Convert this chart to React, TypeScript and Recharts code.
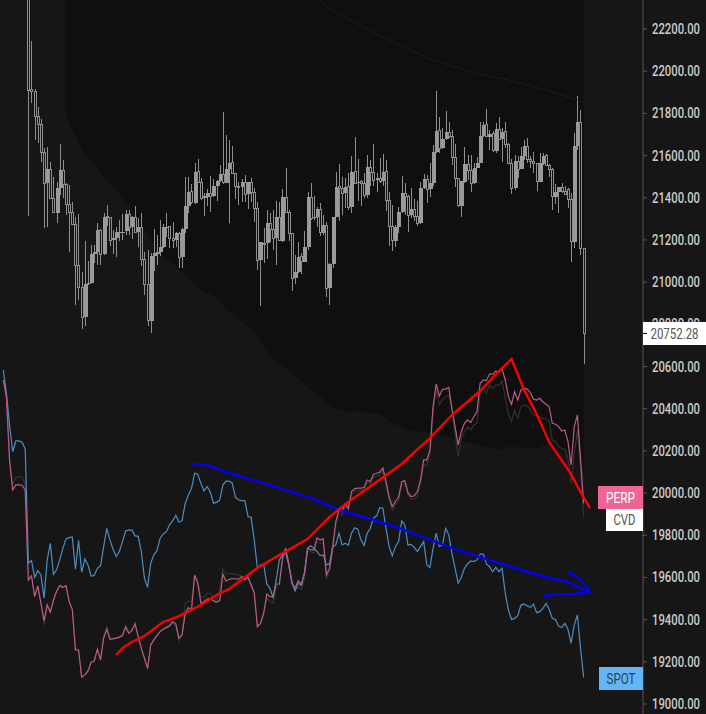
import { Area, Bar, ComposedChart, Line, XAxis, YAxis } from 'recharts'

const slotCount = 204
const candleStart = 8
const axisTop = 22337.5
const axisBottom = 18952.6

const priceTicks = [
  19000, 19200, 19400, 19600, 19800, 20000, 20200, 20400, 20600, 20800, 21000, 21200, 21400, 21600, 21800, 22000, 22200,
]

const opens = [
  22450, 21914, 21904, 21784, 21748, 21613, 21468, 21536, 21395, 21329, 21444, 21530, 21463, 21368, 21331, 21274, 21079, 20975,
  20833, 20989, 20997, 21131, 21141, 21247, 21131, 21310, 21305, 21199, 21207, 21236, 21236, 21244, 21321, 21259, 21307, 21236,
  21259, 21108, 20989, 20817, 21124, 21133, 21141, 21165, 21259, 21263, 21207, 21199, 21231, 21117, 21250, 21361, 21429, 21376,
  21523, 21471, 21397, 21405, 21421, 21408, 21457, 21479, 21511, 21471, 21536,
  21568, 21516, 21452, 21449, 21473, 21416, 21473, 21424, 21350, 21103, 21184, 21184, 21279, 21250, 21208, 21307, 21196, 21402,
  21331, 21231, 21018, 21049, 21121, 21097, 21168, 21402, 21302, 21307, 21345, 21234, 21269, 20970, 21084, 21307, 21452, 21444,
  21421, 21452, 21354, 21524, 21468, 21476, 21468, 21413, 21544, 21519, 21484, 21492, 21479, 21524, 21388, 21266, 21196, 21263,
  21331, 21421, 21408, 21318, 21345, 21313, 21279, 21444, 21487, 21440, 21471, 21618, 21721, 21634, 21677, 21710, 21689, 21591,
  21492, 21362, 21476, 21558, 21531, 21468, 21539, 21563, 21694, 21745, 21689, 21705, 21623, 21724, 21677, 21713, 21653, 21563,
  21444, 21574, 21535, 21598, 21645, 21579, 21574, 21563, 21476, 21560, 21598, 21555, 21535, 21405, 21429, 21449, 21432, 21440,
  21392, 21192, 21645, 21757, 21160,
]

const closes = [
  21910, 21903, 21784, 21748, 21613, 21468, 21536, 21395, 21331, 21444, 21530, 21463, 21368, 21331, 21274, 21079, 20975, 20833,
  20989, 20997, 21131, 21141, 21247, 21131, 21310, 21305, 21199, 21207, 21236, 21237, 21240, 21321, 21258, 21307, 21236, 21259,
  21108, 20989, 20817, 21124, 21136, 21141, 21165, 21259, 21263, 21207, 21199, 21231, 21117, 21250, 21361, 21429, 21376, 21523,
  21471, 21397, 21408, 21421, 21408, 21457, 21479, 21511, 21471, 21536, 21567,
  21516, 21452, 21449, 21473, 21416, 21473, 21424, 21350, 21103, 21189, 21181, 21279, 21250, 21208, 21307, 21196, 21402, 21331,
  21231, 21018, 21049, 21121, 21097, 21168, 21402, 21302, 21307, 21345, 21234, 21269, 20970, 21084, 21307, 21452, 21444, 21421,
  21452, 21354, 21524, 21468, 21476, 21468, 21413, 21544, 21519, 21484, 21492, 21479, 21524, 21388, 21266, 21196, 21263, 21331,
  21421, 21408, 21318, 21345, 21313, 21279, 21444, 21487, 21440, 21471, 21618, 21718, 21634, 21677, 21710, 21689, 21591, 21492,
  21361, 21479, 21558, 21531, 21468, 21539, 21563, 21694, 21745, 21689, 21702, 21623, 21724, 21677, 21713, 21653, 21563, 21444,
  21576, 21535, 21598, 21645, 21579, 21574, 21563, 21476, 21563, 21598, 21555, 21535, 21405, 21429, 21449, 21429, 21416, 21392,
  21192, 21645, 21757, 21160, 20757,
]

const highs = [
  22500, 22143, 21914, 21828, 21771, 21634, 21640, 21568, 21498, 21474, 21654, 21579, 21468, 21460, 21380, 21307, 21321, 21049,
  21193, 21100, 21174, 21176, 21278, 21250, 21326, 21368, 21310, 21247, 21259, 21294, 21323, 21342, 21342, 21313, 21361, 21302,
  21326, 21144, 21152, 21136, 21252, 21223, 21294, 21275, 21326, 21263, 21286, 21239, 21239, 21255, 21498, 21498, 21465, 21563,
  21583, 21496, 21421, 21440, 21503, 21487, 21484, 21555, 21806, 21697, 21673,
  21645, 21516, 21476, 21489, 21508, 21476, 21492, 21444, 21378, 21192, 21255, 21342, 21326, 21342, 21384, 21381, 21441, 21541,
  21342, 21234, 21128, 21189, 21136, 21244, 21429, 21468, 21408, 21358, 21373, 21318, 21283, 21089, 21307, 21520, 21560, 21500,
  21492, 21516, 21598, 21689, 21584, 21484, 21519, 21602, 21579, 21655, 21519, 21587, 21607, 21579, 21429, 21365, 21271, 21358,
  21503, 21468, 21413, 21444, 21392, 21386, 21476, 21512, 21508, 21566, 21650, 21906, 21784, 21729, 21811, 21757, 21721, 21655,
  21492, 21479, 21639, 21602, 21602, 21563, 21595, 21760, 21760, 21819, 21721, 21718, 21753, 21784, 21729, 21760, 21658, 21582,
  21602, 21598, 21642, 21674, 21681, 21598, 21618, 21563, 21610, 21614, 21607, 21560, 21539, 21465, 21452, 21468, 21456, 21444,
  21421, 21705, 21882, 21816, 21160,
]

const lows = [
  21313, 21847, 21673, 21658, 21571, 21256, 21261, 21392, 21326, 21282, 21413, 21397, 21318, 21144, 21270, 20891, 20915, 20778,
  20792, 20986, 20994, 21089, 21081, 21081, 21128, 21267, 21171, 21133, 21120, 21196, 21199, 21223, 21223, 21204, 21239, 21168,
  21078, 20939, 20792, 20760, 21054, 21081, 21124, 21160, 21215, 21160, 21160, 21168, 21068, 21068, 21231, 21329, 21370, 21370,
  21471, 21389, 21313, 21361, 21334, 21405, 21386, 21476, 21465, 21471, 21278,
  21516, 21394, 21366, 21378, 21378, 21346, 21378, 21286, 21057, 20888, 21092, 21110, 21192, 21152, 21081, 21200, 21192, 21331,
  21195, 20959, 20991, 21045, 21038, 21097, 21152, 21294, 21294, 21263, 21220, 21223, 20931, 20893, 21065, 21307, 21291, 21318,
  21350, 21342, 21329, 21468, 21386, 21362, 21397, 21397, 21457, 21456, 21429, 21468, 21456, 21339, 21173, 21149, 21168, 21234,
  21326, 21318, 21239, 21302, 21291, 21268, 21275, 21440, 21373, 21402, 21456, 21614, 21610, 21631, 21674, 21681, 21555, 21452,
  21358, 21310, 21468, 21484, 21429, 21465, 21539, 21563, 21689, 21686, 21626, 21615, 21614, 21674, 21571, 21634, 21563, 21418,
  21437, 21492, 21535, 21579, 21563, 21539, 21516, 21433, 21476, 21555, 21550, 21500, 21342, 21370, 21329, 21421, 21413, 21350,
  21097, 21160, 21626, 21128, 20612,
]

const spotValues = [
  20584, 20473, 20323, 20196, 20247, 20247, 20241, 20208, 19667, 19680, 19601, 19632, 19612, 19501, 19683, 19762, 19615, 19636,
  19683, 19738, 19783, 19789, 19792, 19639, 19776, 19625, 19688, 19659, 19607, 19609, 19643, 19655, 19746, 19833, 19778, 19734,
  19699, 19723, 19770, 19820, 19824, 19824, 19797, 19795, 19723, 19596, 19553, 19667, 19707, 19727, 19786, 19806, 19817, 19849,
  19869, 19895, 19862, 19869, 19952, 19991, 20023, 20094, 20089, 20046, 20010, 20031, 20004, 19952, 19956, 19967, 20038, 20057, 20057,
  20047, 19979, 19968, 19964, 19964, 19889, 19885, 19778, 19644, 19660, 19663, 19569, 19549, 19506, 19588, 19683, 19707, 19723,
  19660, 19581, 19536, 19573, 19562, 19620, 19739, 19750, 19739, 19723, 19704, 19707, 19660, 19664, 19746, 19754, 19810, 19754,
  19762, 19753, 19810, 19836, 19829, 19778, 19751, 19810, 19833, 19881, 19892, 19931, 19928, 19833, 19746, 19702, 19746, 19770,
  19868, 19849, 19754, 19757, 19743, 19723, 19746, 19770, 19660, 19647, 19739, 19810, 19746, 19754, 19833, 19802, 19715, 19644, 19573, 19600,
  19643, 19664, 19678, 19675, 19683, 19711, 19711, 19664, 19651, 19627, 19648, 19627, 19643, 19525, 19446, 19401, 19406, 19419,
  19469, 19474, 19465, 19458, 19474, 19433, 19438, 19453, 19477, 19449, 19406, 19401, 19370, 19363, 19382, 19354, 19288, 19375, 19422, 19264, 19126,
]

const perpValues = [
  20536, 20457, 20157, 20015, 20039, 20039, 20037, 20015, 19588, 19607, 19509, 19560, 19478, 19395, 19470, 19435, 19493, 19533,
  19561, 19553, 19561, 19486, 19449, 19256, 19256, 19127, 19138, 19157, 19198, 19204, 19260, 19209, 19312, 19354, 19307, 19309,
  19312, 19316, 19324, 19364, 19335, 19348, 19380, 19320, 19264, 19217, 19170, 19280, 19304, 19324, 19343, 19354, 19362, 19370,
  19391, 19380, 19312, 19327, 19430, 19457, 19446, 19612, 19572, 19478, 19486, 19497, 19501, 19490, 19482, 19490, 19615, 19583, 19591,
  19595, 19593, 19592, 19604, 19588, 19601, 19565, 19528, 19367, 19383, 19430, 19522, 19509, 19509, 19569, 19569, 19691, 19739,
  19667, 19573, 19549, 19585, 19568, 19620, 19739, 19731, 19731, 19786, 19778, 19783, 19612, 19644, 19746, 19865, 19920, 19912,
  19949, 19928, 20007, 20020, 20023, 20023, 20026, 20062, 20054, 20089, 20094, 20099, 20118, 20054, 19983, 19936, 19960, 19980,
  20054, 20059, 20002, 19983, 19987, 20007, 20062, 20157, 20157, 20205,
  20410, 20517, 20460, 20492, 20493, 20501, 20402, 20315, 20228, 20291, 20331, 20347, 20334, 20362, 20386, 20520, 20536, 20533, 20565,
  20563, 20579, 20575, 20588, 20536, 20457, 20421, 20481, 20441, 20489, 20497, 20493, 20478, 20446, 20441, 20449, 20433, 20421,
  20410, 20331, 20326, 20315, 20294, 20299, 20244, 20133, 20315, 20370, 20165, 19951,
]

const cvdValues = [
  20536, 20457, 20157, 20040, 20075, 20078, 20075, 20046, 19588, 19607, 19509, 19560, 19478, 19375, 19462, 19435, 19493, 19540,
  19561, 19553, 19561, 19486, 19449, 19265, 19256, 19127, 19138, 19157, 19198, 19204, 19260, 19209, 19320, 19368, 19312, 19312,
  19315, 19320, 19330, 19375, 19345, 19352, 19385, 19320, 19264, 19217, 19160, 19280, 19304, 19330, 19345, 19358, 19367, 19375,
  19385, 19370, 19300, 19335, 19478, 19486, 19486, 19604, 19588, 19506, 19506, 19525, 19525, 19506, 19490, 19541, 19639, 19615, 19620,
  19617, 19617, 19612, 19607, 19588, 19601, 19557, 19517, 19364, 19380, 19427, 19502, 19486, 19478, 19549, 19565, 19683, 19723,
  19660, 19565, 19536, 19557, 19541, 19596, 19723, 19723, 19715, 19770, 19762, 19762, 19596, 19628, 19723, 19849, 19901, 19896,
  19936, 19920, 19991, 20007, 20012, 20012, 20015, 20050, 20043, 20075, 20081, 20086, 20102, 20039, 19968, 19917, 19944, 19964,
  20039, 20047, 19991, 19972, 19971, 19983, 20047, 20133, 20129, 20181,
  20386, 20489, 20418, 20444, 20457, 20465, 20394, 20283, 20173, 20260, 20291, 20312, 20299, 20323, 20331, 20473, 20497, 20473, 20512,
  20497, 20512, 20512, 20531, 20449, 20378, 20339, 20394, 20354, 20410, 20417, 20414, 20394, 20370, 20365, 20361, 20354, 20350,
  20343, 20252, 20244, 20220, 20212, 20204, 20165, 20046, 20180, 20299, 20117, 19885,
]

const redSlots = [36, 38, 41, 45, 51, 56, 63, 68, 72, 81, 88, 97, 104, 110, 119, 127, 136, 143, 149, 152, 155, 159, 162, 166, 170, 174, 181, 184, 187]
const redPrices = [
  19232, 19265, 19294, 19322, 19389, 19417, 19469, 19517, 19545, 19645, 19706, 19782, 19887, 19958, 20052, 20138, 20261, 20370,
  20446, 20484, 20531, 20593, 20635, 20489, 20375, 20242, 20090, 20005, 19929,
]

const blueSlots = [60, 65, 72, 85, 98, 107, 117, 127, 138, 142, 153, 164, 173, 180, 187]
const bluePrices = [20138, 20133, 20095, 20038, 19977, 19920, 19877, 19830, 19768, 19744, 19692, 19640, 19602, 19578, 19531]

const arrowLowSlots = [172, 177, 181, 187]
const arrowLowPrices = [19512, 19521, 19521, 19531]
const arrowHighSlots = [180, 183, 186, 187]
const arrowHighPrices = [19626, 19602, 19555, 19531]

const shadeSlots = [
  20, 25, 31, 36, 40, 45, 50, 56, 63, 68, 72, 79, 82, 87, 92, 97, 101, 105, 110, 111, 112, 116, 120, 124, 129, 136, 139, 149, 155,
  159, 161, 166, 170, 174, 177, 181, 185,
]
const shadeLows = [
  21783, 21636, 21517, 21437, 21366, 21252, 21138, 21062, 20963, 20929, 20858, 20783, 20716, 20621, 20569, 20503, 20465, 20398,
  20389, 20380, 20394, 20380, 20380, 20332, 20304, 20285, 20275, 20237, 20214, 20204, 20223, 20214, 20214, 20237, 20204, 20166, 20124,
]

const bandSlots = [101, 105, 121, 135, 150, 161, 173, 185]
const bandPrices = [22337, 22285, 22162, 22063, 21991, 21958, 21911, 21854]

const valueAt = (slots: number[], values: number[], slot: number) => {
  const index = slots.indexOf(slot)
  return index < 0 ? undefined : values[index]
}

const rows = Array.from({ length: slotCount }, (_, slot) => {
  const c = slot - candleStart
  const lower = valueAt(shadeSlots, shadeLows, slot)
  return {
    slot,
    candle: c >= 0 && c < opens.length ? [lows[c], highs[c]] : undefined,
    open: opens[c],
    close: closes[c],
    spot: spotValues[slot],
    perp: perpValues[slot],
    cvd: cvdValues[slot],
    red: valueAt(redSlots, redPrices, slot),
    blue: valueAt(blueSlots, bluePrices, slot),
    arrowLow: valueAt(arrowLowSlots, arrowLowPrices, slot),
    arrowHigh: valueAt(arrowHighSlots, arrowHighPrices, slot),
    band: valueAt(bandSlots, bandPrices, slot),
    shade: lower === undefined ? undefined : [lower, axisTop],
  }
})

const Candle = (props: any) => {
  const { x, y, width, height, payload } = props
  if (!payload || !payload.candle) return null
  const [low, high] = payload.candle
  const perUnit = height / (high - low)
  const mid = Math.round(x + width / 2)
  const top = y + (high - Math.max(payload.open, payload.close)) * perUnit
  const bottom = y + (high - Math.min(payload.open, payload.close)) * perUnit
  const up = payload.close > payload.open
  return (
    <g shapeRendering="crispEdges">
      <rect x={mid} y={y} width={1} height={Math.max(top - y, 0)} fill="#8f8f8f" />
      <rect x={mid} y={bottom} width={1} height={Math.max(y + height - bottom, 0)} fill="#8f8f8f" />
      {up ? (
        <rect x={mid - 1} y={top} width={4} height={Math.max(bottom - top, 1)} fill="#9a9a9a" />
      ) : (
        <rect x={mid - 0.5} y={top} width={2} height={Math.max(bottom - top, 1)} fill="none" stroke="#8f8f8f" strokeWidth={1} />
      )}
    </g>
  )
}

const PriceTick = (props: any) => {
  const { x, y, payload } = props
  return (
    <text
      x={x}
      y={y}
      dy={5}
      fill="#cccccc"
      fontFamily="Roboto, sans-serif"
      fontWeight={500}
      fontSize={15}
      textLength={48}
      lengthAdjust="spacingAndGlyphs"
    >
      {payload.value.toFixed(2)}
    </text>
  )
}

const Tag = ({ left, top, width, height, background, color, text, textWidth }: any) => (
  <svg style={{ position: 'absolute', left, top }} width={width} height={height}>
    <rect width={width} height={height} fill={background} />
    <text
      x={width / 2}
      y={height / 2 + 5}
      textAnchor="middle"
      fill={color}
      fontFamily="Roboto, sans-serif"
      fontSize={15}
      textLength={textWidth}
      lengthAdjust="spacingAndGlyphs"
    >
      {text}
    </text>
  </svg>
)

export default function App() {
  return (
    <div style={{ position: 'absolute', left: 0, top: 0, width: 706, height: 714, background: '#161616', overflow: 'hidden' }}>
      <ComposedChart width={706} height={714} data={rows} margin={{ top: 0, right: 0, bottom: 0, left: 0 }} barCategoryGap={0}>
        <XAxis dataKey="slot" hide padding={{ left: 1.7, right: 1.3 }} />
        <YAxis
          orientation="right"
          width={63}
          domain={[axisBottom, axisTop]}
          allowDataOverflow
          ticks={priceTicks}
          interval={0}
          tick={<PriceTick />}
          tickSize={4}
          tickMargin={5}
          tickLine={{ stroke: '#555' }}
          axisLine={{ stroke: '#555' }}
        />
        <Area dataKey="shade" fill="#0f0f0f" fillOpacity={1} stroke="none" connectNulls type="linear" isAnimationActive={false} dot={false} activeDot={false} />
        <Line dataKey="band" stroke="#18211f" strokeWidth={1} dot={false} activeDot={false} connectNulls isAnimationActive={false} />
        <Bar dataKey="candle" barSize={1} shape={<Candle />} isAnimationActive={false} />
        <Line dataKey="cvd" stroke="#333333" strokeWidth={1.2} dot={false} activeDot={false} isAnimationActive={false} />
        <Line dataKey="spot" stroke="#4a8fc2" strokeWidth={1.2} dot={false} activeDot={false} isAnimationActive={false} />
        <Line dataKey="perp" stroke="#bd5a84" strokeWidth={1.2} dot={false} activeDot={false} isAnimationActive={false} />
        <Line dataKey="blue" stroke="#0000ff" strokeWidth={2.4} dot={false} activeDot={false} connectNulls isAnimationActive={false} />
        <Line dataKey="arrowLow" stroke="#0000ff" strokeWidth={2.4} dot={false} activeDot={false} connectNulls isAnimationActive={false} />
        <Line dataKey="arrowHigh" stroke="#0000ff" strokeWidth={2.4} dot={false} activeDot={false} connectNulls isAnimationActive={false} />
        <Line dataKey="red" stroke="#ff0000" strokeWidth={2.4} dot={false} activeDot={false} connectNulls isAnimationActive={false} />
      </ComposedChart>
      <Tag left={643} top={322} width={63} height={23} background="#ffffff" color="#555555" text="20752.28" textWidth={48} />
      <div style={{ position: 'absolute', left: 643, top: 333, width: 4, height: 1, background: '#000000' }} />
      <Tag left={598} top={486} width={45} height={23} background="#ee6595" color="#ffffff" text="PERP" textWidth={29} />
      <Tag left={606} top={509} width={37} height={22} background="#ffffff" color="#555555" text="CVD" textWidth={22} />
      <Tag left={599} top={667} width={44} height={23} background="#64b5f6" color="#333f4a" text="SPOT" textWidth={29} />
    </div>
  )
}
